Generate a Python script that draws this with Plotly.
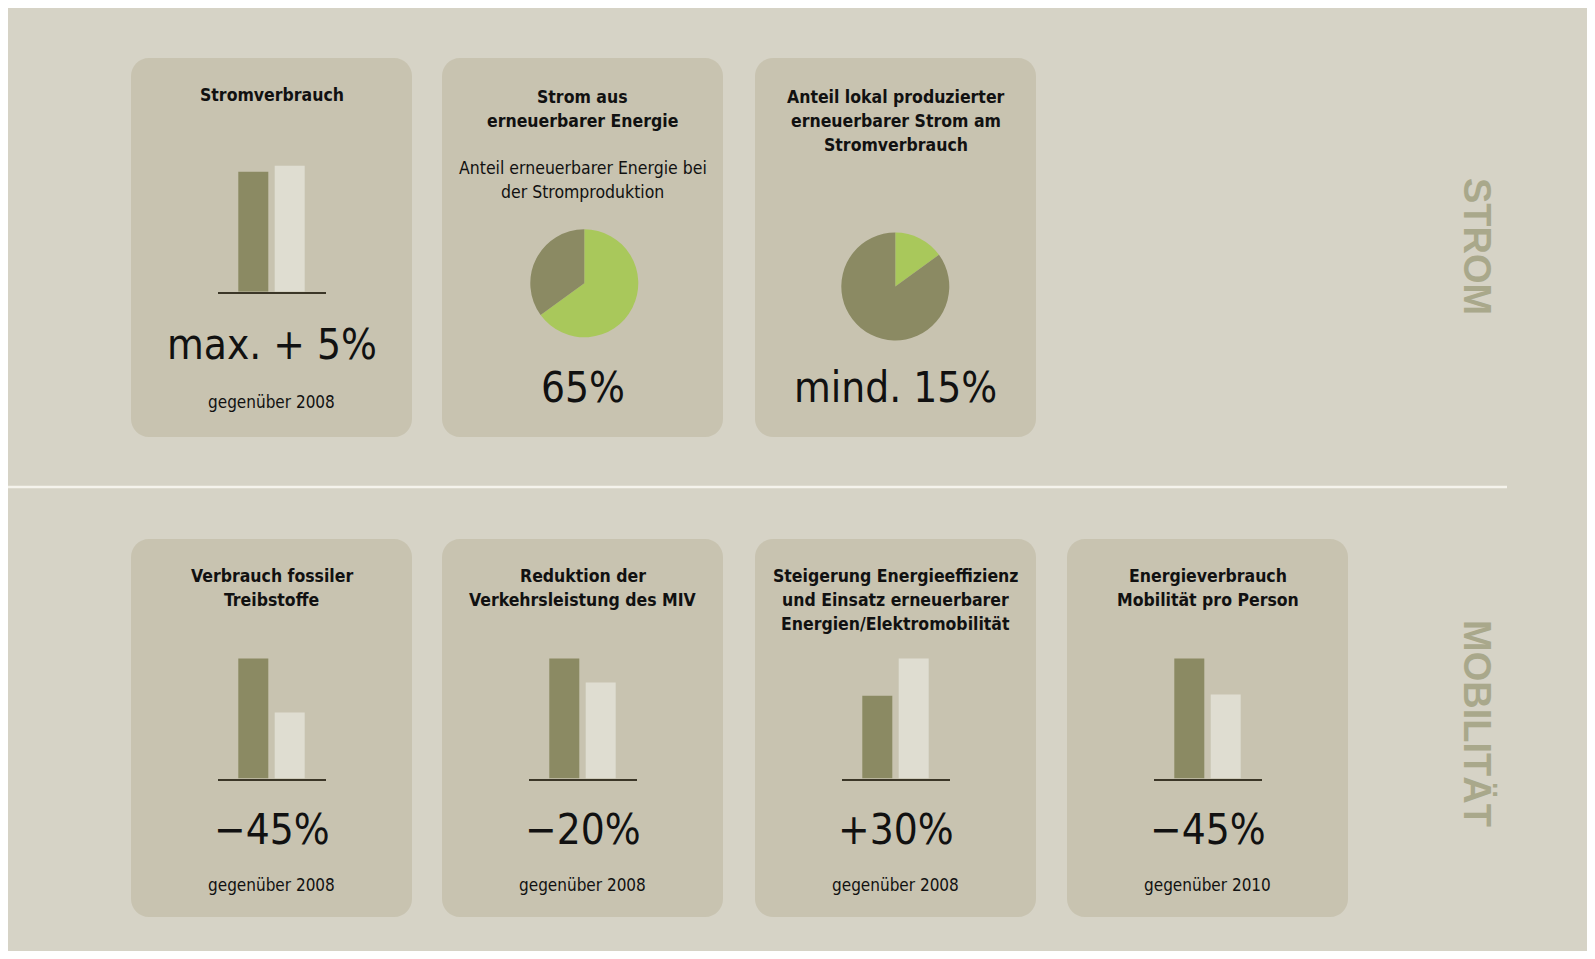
import plotly.graph_objects as go

# ---------------- data ----------------
bar_categories = ["Ausgangswert", "Ziel"]
strom_bar_values = [100, 105]
mob_bar_values = [[100, 55], [100, 80], [69, 100], [100, 70]]

pie_labels = ["erneuerbar", "übrige"]
pie_renewable_values = [65, 35]
pie_local_values = [15, 85]

strom_titles = [["Stromverbrauch"],
                ["Strom aus", "erneuerbarer Energie"],
                ["Anteil lokal produzierter", "erneuerbarer Strom am", "Stromverbrauch"]]
strom_subtitle = ["Anteil erneuerbarer Energie bei", "der Stromproduktion"]
strom_values = ["max. + 5%", "65%", "mind. 15%"]
strom_refs = ["gegenüber 2008", None, None]

mob_titles = [["Verbrauch fossiler", "Treibstoffe"],
              ["Reduktion der", "Verkehrsleistung des MIV"],
              ["Steigerung Energieeffizienz", "und Einsatz erneuerbarer", "Energien/Elektromobilität"],
              ["Energieverbrauch", "Mobilität pro Person"]]
mob_values = ["−45%", "−20%", "+30%", "−45%"]
mob_refs = ["gegenüber 2008", "gegenüber 2008", "gegenüber 2008", "gegenüber 2010"]

section_labels = ["STROM", "MOBILITÄT"]

# ---------------- style ----------------
W, H = 1579, 943
OX, OY = 8, 8
PANEL = "#d6d3c6"
CARD = "#c8c3b0"
DARK = "#8b8a63"
LIGHT = "#dfddd1"
GREEN = "#a9c85b"
SECTION = "#a9a88b"
TXT = "#111111"
NARROW = "DejaVu Sans Condensed, Liberation Sans Narrow, sans-serif"


def X(px):
    return (px - OX) / W


def Y(py):
    return 1 - (py - OY) / H


card_lefts = [131, 442, 755, 1067]
card_w = 281
rows = {"strom": (58, 437), "mob": (539, 917)}
radius = 18

fig = go.Figure()
shapes = []
annotations = []


def rounded_rect(x0, y0, x1, y1, r):
    rx, ry = r / W, r / H
    a0, a1 = X(x0), X(x1)
    b0, b1 = Y(y1), Y(y0)  # b0 bottom, b1 top (paper)
    k = 0.45
    p = (f"M {a0+rx},{b1} L {a1-rx},{b1} C {a1-rx*k},{b1} {a1},{b1-ry*k} {a1},{b1-ry} "
         f"L {a1},{b0+ry} C {a1},{b0+ry*k} {a1-rx*k},{b0} {a1-rx},{b0} "
         f"L {a0+rx},{b0} C {a0+rx*k},{b0} {a0},{b0+ry*k} {a0},{b0+ry} "
         f"L {a0},{b1-ry} C {a0},{b1-ry*k} {a0+rx*k},{b1} {a0+rx},{b1} Z")
    return dict(type="path", path=p, xref="paper", yref="paper",
                fillcolor=CARD, line=dict(width=0), layer="below")


# cards
for i in range(3):
    shapes.append(rounded_rect(card_lefts[i], rows["strom"][0], card_lefts[i] + card_w, rows["strom"][1], radius))
for i in range(4):
    shapes.append(rounded_rect(card_lefts[i], rows["mob"][0], card_lefts[i] + card_w, rows["mob"][1], radius))

# separator line
shapes.append(dict(type="line", xref="paper", yref="paper", x0=X(OX), x1=X(1507), y0=Y(487), y1=Y(487),
                   line=dict(color="#f5f3ec", width=2.5), layer="below"))


def text(px, py, s, size, bold=False, color=TXT, family=NARROW, angle=0):
    annotations.append(dict(x=X(px), y=Y(py), xref="paper", yref="paper", text=s, showarrow=False,
                            xanchor="center", yanchor="middle", textangle=angle,
                            font=dict(family=family, size=size, color=color,
                                      weight=700 if bold else 400)))


def centre(i):
    return card_lefts[i] + card_w / 2


# bar subplots
bar_sets = [(0, "strom", strom_bar_values)] + [(i, "mob", v) for i, v in enumerate(mob_bar_values)]
baselines = {"strom": 291.7, "mob": 778.5}
px_per_unit = 1.2
top_px = 135
spacing = 36.4
half = 54
layout_axes = {}
for n, (ci, row, vals) in enumerate(bar_sets, start=1):
    c = centre(ci)
    base = baselines[row]
    xa = "x" if n == 1 else f"x{n}"
    ya = "y" if n == 1 else f"y{n}"
    fig.add_trace(go.Bar(x=bar_categories, y=vals, marker=dict(color=[DARK, LIGHT], line=dict(width=0)),
                         xaxis=xa, yaxis=ya, showlegend=False, hoverinfo="skip"))
    xr = 0.5 - half / spacing
    layout_axes["xaxis" if n == 1 else f"xaxis{n}"] = dict(
        domain=[X(c - half), X(c + half)], range=[xr, 1 - xr], showgrid=False, zeroline=False,
        showticklabels=False, ticks="", showline=True, linecolor="#3b3627", linewidth=1.6,
        anchor=ya, fixedrange=True)
    layout_axes["yaxis" if n == 1 else f"yaxis{n}"] = dict(
        domain=[Y(base), Y(base - top_px)], range=[0, top_px / px_per_unit], showgrid=False,
        zeroline=False, showticklabels=False, ticks="", showline=False, anchor=xa, fixedrange=True)

# pies
pie_r = 54
for (cx, cy), vals in [((584.3, 283.3), pie_renewable_values), ((895.3, 286.5), pie_local_values)]:
    fig.add_trace(go.Pie(labels=pie_labels, values=vals, sort=False, direction="clockwise", rotation=0,
                         marker=dict(colors=[GREEN, DARK], line=dict(width=0)), textinfo="none",
                         hoverinfo="skip", showlegend=False,
                         domain=dict(x=[X(cx - pie_r), X(cx + pie_r)], y=[Y(cy + pie_r), Y(cy - pie_r)])))

TITLE_SIZE = 17.5
SUB_SIZE = 17.5
REF_SIZE = 17
VAL_SIZE = 42

# STROM texts
title_y = {1: [95], 2: [97, 121], 3: [97, 121, 145]}
for i, lines in enumerate(strom_titles):
    for j, line in enumerate(lines):
        text(centre(i), title_y[len(lines)][j], line, TITLE_SIZE, bold=True)
for j, line in enumerate(strom_subtitle):
    text(centre(1), [168, 192][j], line, SUB_SIZE)
value_y_strom = [344, 387, 388]
for i, v in enumerate(strom_values):
    text(centre(i), value_y_strom[i], v, VAL_SIZE)
for i, r in enumerate(strom_refs):
    if r:
        text(centre(i), 402, r, REF_SIZE)

# MOBILITÄT texts
mob_title_y = {2: [576, 600], 3: [576, 600, 624]}
for i, lines in enumerate(mob_titles):
    for j, line in enumerate(lines):
        text(centre(i), mob_title_y[len(lines)][j], line, TITLE_SIZE, bold=True)
for i, v in enumerate(mob_values):
    text(centre(i), 829, v, VAL_SIZE)
for i, r in enumerate(mob_refs):
    text(centre(i), 885, r, REF_SIZE)

# section labels
text(1477, 246, section_labels[0], 38, bold=True, color=SECTION, family="Liberation Sans, Arial, sans-serif", angle=90)
text(1477, 723, section_labels[1], 38, bold=True, color=SECTION, family="Liberation Sans, Arial, sans-serif", angle=90)

fig.update_layout(width=W, height=H, margin=dict(l=0, r=0, t=0, b=0), paper_bgcolor=PANEL,
                  plot_bgcolor="rgba(0,0,0,0)", bargap=1 - 30 / spacing, shapes=shapes,
                  annotations=annotations, **layout_axes)

fig.write_html("out.html")
